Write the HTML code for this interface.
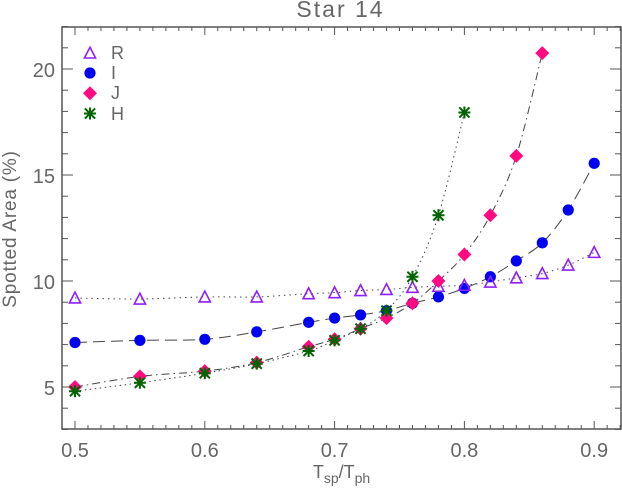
<!DOCTYPE html>
<html>
<head>
<meta charset="utf-8">
<style>
html,body{margin:0;padding:0;background:#fff;}
svg{display:block;}
text{font-family:"Liberation Sans",sans-serif;fill:#666;font-weight:normal;}
</style>
</head>
<body>
<svg id="chart" width="622" height="488" viewBox="0 0 622 488" xmlns="http://www.w3.org/2000/svg"></svg>
<script>
const xR = [0.5,0.55,0.6,0.64,0.68,0.7,0.72,0.74,0.76,0.78,0.8,0.82,0.84,0.86,0.88,0.9];
const yR = [9.2,9.15,9.25,9.25,9.4,9.45,9.55,9.6,9.7,9.75,9.8,9.95,10.15,10.35,10.75,11.35];
const xI = [0.5,0.55,0.6,0.64,0.68,0.7,0.72,0.74,0.76,0.78,0.8,0.82,0.84,0.86,0.88,0.9];
const yI = [7.1,7.2,7.25,7.6,8.05,8.25,8.4,8.6,8.95,9.25,9.65,10.2,10.95,11.8,13.35,15.55];
const xJ = [0.5,0.55,0.6,0.64,0.68,0.7,0.72,0.74,0.76,0.78,0.8,0.82,0.84,0.86];
const yJ = [5.0,5.5,5.75,6.15,6.9,7.25,7.75,8.25,8.95,10.0,11.25,13.1,15.9,20.75];
const xH = [0.5,0.55,0.6,0.64,0.68,0.7,0.72,0.74,0.76,0.78,0.8];
const yH = [4.8,5.2,5.65,6.1,6.7,7.2,7.75,8.6,10.2,13.1,17.95];
const xTickLabels = ["0.5","0.6","0.7","0.8","0.9"];
const yTickLabels = ["5","10","15","20"];
const legendLabels = ["R","I","J","H"];

const svg = document.getElementById('chart');
const NS = 'http://www.w3.org/2000/svg';
const L = 62, R = 621, T = 27, B = 429;
const sx = v => 75 + (v - 0.5) * 1298;
const sy = v => 387 - (v - 5) * 21.2;
const axisColor = '#555';

function mk(tag, attrs, text) {
  const e = document.createElementNS(NS, tag);
  for (const k in attrs) e.setAttribute(k, attrs[k]);
  if (text !== undefined) e.textContent = text;
  return e;
}
function tick(x1, y1, x2, y2, nm) {
  const t = mk('line', {x1, y1, x2, y2, stroke: axisColor, 'stroke-width': 1});
  
  
  svg.appendChild(t);
}

const frame = mk('rect', {x: L, y: T, width: R - L, height: B - T, fill: 'none', stroke: axisColor, 'stroke-width': 1.5});


svg.appendChild(frame);

for (let i = 49; i <= 92; i++) {
  const x = sx(i / 100);
  const len = i % 10 === 0 ? 8 : 4;
  tick(x, B, x, B - len, 'x-tick');
  tick(x, T, x, T + len, 'x-tick-top');
}
for (let v = 3; v <= 22; v++) {
  const y = sy(v);
  const len = v % 5 === 0 ? 11 : 6;
  tick(L, y, L + len, y, 'y-tick');
  tick(R, y, R - len, y, 'y-tick-right');
}

xTickLabels.forEach(s => {
  const t = mk('text', {x: sx(parseFloat(s)), y: 457, 'font-size': 20, 'text-anchor': 'middle'}, s);
  
  
  svg.appendChild(t);
});
yTickLabels.forEach(s => {
  const t = mk('text', {x: 55, y: sy(parseFloat(s)) + 8, 'font-size': 20, 'text-anchor': 'end'}, s);
  
  
  svg.appendChild(t);
});

const title = mk('text', {x: 340.5, y: 17, 'font-size': 23, 'text-anchor': 'middle', 'letter-spacing': 2}, 'Star 14');


svg.appendChild(title);

const yTitle = mk('text', {x: 0, y: 0, 'font-size': 19, 'text-anchor': 'middle', 'letter-spacing': 0.8, transform: 'translate(16 229) rotate(-90)'}, 'Spotted Area (%)');


svg.appendChild(yTitle);

const xTitle = mk('text', {x: 341.5, y: 478, 'font-size': 18, 'text-anchor': 'middle'});


[['T', 0], ['sp', 5], ['/T', 0], ['ph', 5]].forEach(p => {
  const s = mk('tspan', p[1] ? {'font-size': 14, dy: 5} : {dy: xTitle.childNodes.length ? -5 : 0}, p[0]);
  xTitle.appendChild(s);
});
svg.appendChild(xTitle);

function curve(xs, ys) {
  const p = xs.map((x, i) => [sx(x), sy(ys[i])]);
  let d = 'M' + p[0][0] + ' ' + p[0][1];
  for (let i = 0; i < p.length - 1; i++) {
    const a = p[Math.max(i - 1, 0)], b = p[i], c = p[i + 1], e = p[Math.min(i + 2, p.length - 1)];
    d += ' C' + (b[0] + (c[0] - a[0]) / 6) + ' ' + (b[1] + (c[1] - a[1]) / 6) + ' ' +
      (c[0] - (e[0] - b[0]) / 6) + ' ' + (c[1] - (e[1] - b[1]) / 6) + ' ' + c[0] + ' ' + c[1];
  }
  return d;
}
function drawLine(xs, ys, dash, nm) {
  const l = mk('path', {d: curve(xs, ys), fill: 'none', stroke: '#444', 'stroke-width': 1, 'stroke-dasharray': dash});
  
  
  svg.appendChild(l);
}
function triangle(x, y, nm) {
  const m = mk('polygon', {points: (x - 5.6) + ',' + (y + 5) + ' ' + (x + 5.6) + ',' + (y + 5) + ' ' + x + ',' + (y - 5.8), fill: 'none', stroke: '#8f1fff', 'stroke-width': 1.6});
  
  
  svg.appendChild(m);
}
function circle(x, y, nm) {
  const m = mk('circle', {cx: x, cy: y, r: 5.6, fill: '#0000f0'});
  
  
  svg.appendChild(m);
}
function diamond(x, y, nm) {
  const m = mk('polygon', {points: (x - 7) + ',' + y + ' ' + x + ',' + (y - 7) + ' ' + (x + 7) + ',' + y + ' ' + x + ',' + (y + 7), fill: '#ff0a80'});
  
  
  svg.appendChild(m);
}
function star(x, y, nm) {
  const r = 6, q = r * 0.85;
  const d = 'M' + (x - r) + ' ' + y + 'H' + (x + r) + 'M' + x + ' ' + (y - r) + 'V' + (y + r) +
    'M' + (x - q) + ' ' + (y - q) + 'L' + (x + q) + ' ' + (y + q) + 'M' + (x - q) + ' ' + (y + q) + 'L' + (x + q) + ' ' + (y - q);
  const m = mk('path', {d: d, fill: 'none', stroke: '#006400', 'stroke-width': 2});
  
  
  svg.appendChild(m);
}

drawLine(xR, yR, '1.5 4', 'series-r-line');
drawLine(xI, yI, '12 6', 'series-i-line');
drawLine(xJ, yJ, '8 4 1.5 4', 'series-j-line');
drawLine(xH, yH, '1.5 3.5', 'series-h-line');

xI.forEach((x, i) => circle(sx(x), sy(yI[i]), 'series-i-point'));
xR.forEach((x, i) => triangle(sx(x), sy(yR[i]), 'series-r-point'));
xJ.forEach((x, i) => diamond(sx(x), sy(yJ[i]), 'series-j-point'));
xH.forEach((x, i) => star(sx(x), sy(yH[i]), 'series-h-point'));

const legendY = [53, 73, 93.3, 113.5];
const legendDraw = [triangle, circle, diamond, star];
legendLabels.forEach((s, i) => {
  legendDraw[i](90, legendY[i], 'legend-marker-' + s.toLowerCase());
  const t = mk('text', {x: 111, y: Math.round(legendY[i]) + 6, 'font-size': 18}, s);
  
  
  svg.appendChild(t);
});
</script>
</body>
</html>
